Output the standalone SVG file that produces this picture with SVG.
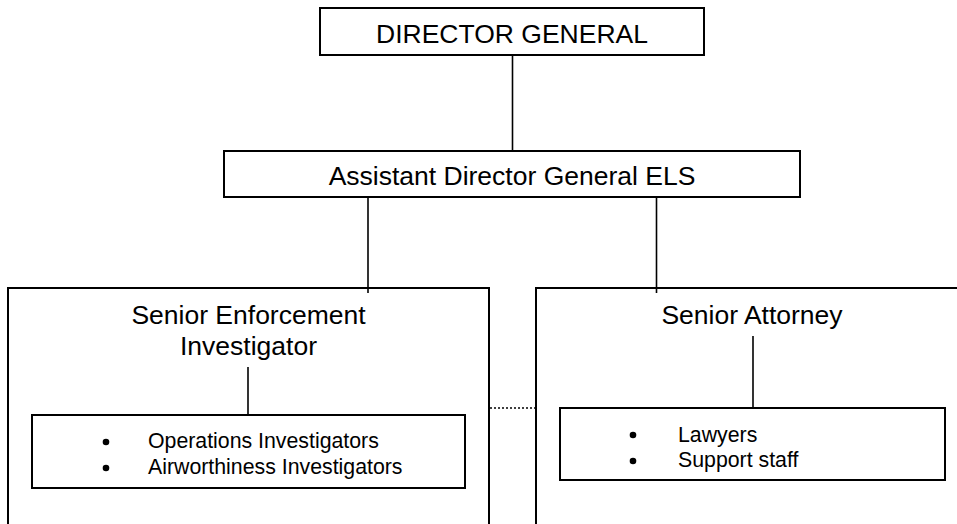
<svg xmlns="http://www.w3.org/2000/svg" width="957" height="524" viewBox="0 0 957 524">
<style>
.box{fill:#fff;stroke:#000;stroke-width:2}
.ln{stroke:#000;stroke-width:1.6;fill:none}
.dot{stroke:#000;stroke-width:1.6;stroke-dasharray:2 2;fill:none}
.t{font-family:"Liberation Sans",Arial,sans-serif;fill:#000}
.big{font-size:26.5px}
.sm{font-size:21.3px}
</style>
<rect width="957" height="524" fill="#fff"/>
<g id="n-sei">
<rect class="box" x="8" y="288" width="481" height="260"/>
<text class="t big" x="248.5" y="324" text-anchor="middle">Senior Enforcement</text>
<text class="t big" x="248.5" y="355" text-anchor="middle">Investigator</text>
</g>
<g id="n-sa">
<rect class="box" x="536" y="288" width="440" height="260"/>
<text class="t big" x="752" y="324" text-anchor="middle">Senior Attorney</text>
</g>
<g id="n-dg">
<rect class="box" x="320" y="8" width="384" height="47"/>
<text class="t big" x="512" y="43" text-anchor="middle">DIRECTOR GENERAL</text>
</g>
<g id="n-adg">
<rect class="box" x="224" y="151" width="576" height="46"/>
<text class="t big" x="512" y="185" text-anchor="middle">Assistant Director General ELS</text>
</g>
<g id="n-inv">
<rect class="box" x="32" y="415" width="433" height="73"/>
<circle cx="106" cy="442" r="3.3"/>
<circle cx="106" cy="468" r="3.3"/>
<text class="t sm" x="148" y="448">Operations Investigators</text>
<text class="t sm" x="148" y="474">Airworthiness Investigators</text>
</g>
<g id="n-law">
<rect class="box" x="560" y="408" width="385" height="72"/>
<circle cx="633" cy="435" r="3.3"/>
<circle cx="633" cy="461" r="3.3"/>
<text class="t sm" x="678" y="442">Lawyers</text>
<text class="t sm" x="678" y="467">Support staff</text>
</g>
<g id="connectors">
<line class="ln" x1="512.5" y1="55" x2="512.5" y2="151"/>
<line class="ln" x1="368" y1="197" x2="368" y2="293"/>
<line class="ln" x1="656.5" y1="197" x2="656.5" y2="293"/>
<line class="ln" x1="248" y1="367" x2="248" y2="415"/>
<line class="ln" x1="753" y1="336" x2="753" y2="408"/>
<line class="dot" x1="490" y1="408" x2="535" y2="408"/>
</g>
</svg>
